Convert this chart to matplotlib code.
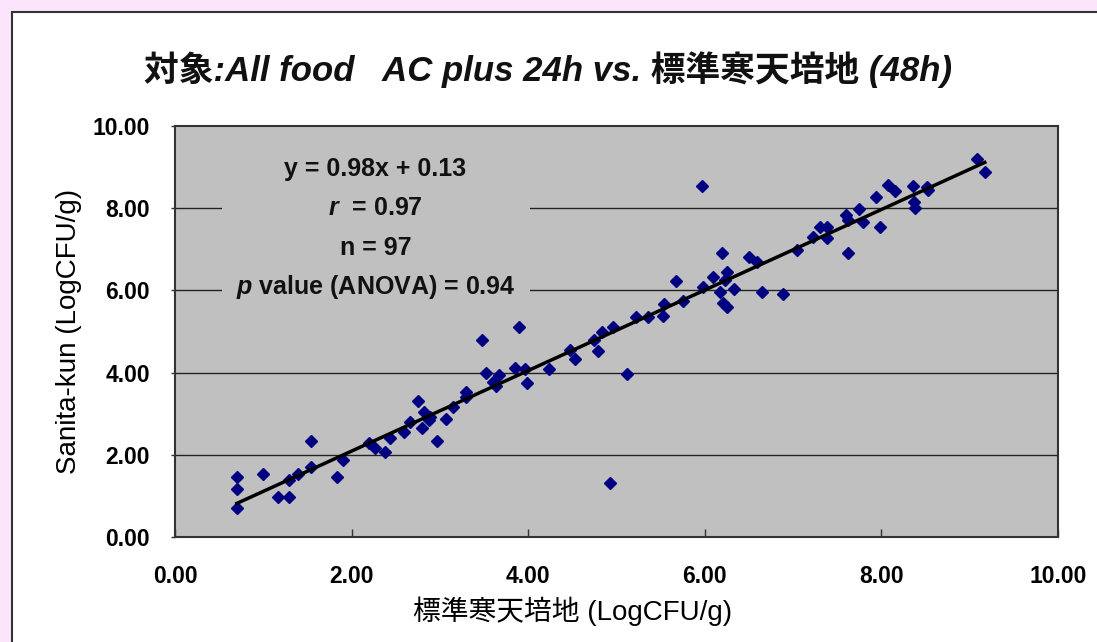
import matplotlib
matplotlib.use("Agg")
import matplotlib.pyplot as plt
from matplotlib.patches import Rectangle

# 標準寒天培地 (x) vs Sanita-kun (y), LogCFU/g
std_agar = [0.70, 0.70, 0.70, 1.00, 1.17, 1.29, 1.29, 1.39, 1.54, 1.54,
            1.83, 1.90, 2.20, 2.27, 2.38, 2.43, 2.59, 2.66, 2.75, 2.82,
            2.80, 2.88, 2.89, 2.97, 3.07, 3.15, 3.30, 3.30, 3.48, 3.90,
            3.52, 3.60, 3.67, 3.64, 3.85, 3.96, 3.99, 4.24, 4.47, 4.53,
            4.75, 4.79, 4.84, 4.96, 5.12, 4.93, 5.22, 5.36, 5.53, 5.54,
            5.75, 5.67, 5.98, 5.97, 6.09, 6.19, 6.17, 6.25, 6.23, 6.21,
            6.25, 6.33, 6.50, 6.59, 6.65, 6.89, 7.04, 7.23, 7.30, 7.38,
            7.38, 7.60, 7.62, 7.62, 7.75, 7.79, 7.94, 7.98, 8.07, 8.15,
            8.36, 8.37, 8.38, 8.52, 8.53, 9.08, 9.17]
sanita = [1.46, 1.17, 0.71, 1.53, 0.97, 0.97, 1.39, 1.53, 2.34, 1.70,
          1.46, 1.87, 2.29, 2.17, 2.07, 2.41, 2.55, 2.80, 3.31, 3.04,
          2.65, 2.85, 2.92, 2.34, 2.87, 3.16, 3.53, 3.41, 4.79, 5.11,
          3.99, 3.77, 3.94, 3.67, 4.11, 4.09, 3.75, 4.09, 4.55, 4.33,
          4.79, 4.53, 4.99, 5.11, 3.97, 1.31, 5.35, 5.35, 5.38, 5.67,
          5.74, 6.23, 6.08, 8.54, 6.33, 6.91, 5.96, 6.45, 6.25, 5.69,
          5.60, 6.03, 6.81, 6.69, 5.96, 5.91, 6.98, 7.30, 7.54, 7.54,
          7.27, 7.83, 7.71, 6.91, 7.98, 7.66, 8.27, 7.54, 8.56, 8.42,
          8.54, 8.15, 8.00, 8.52, 8.44, 9.20, 8.88]

slope = 0.98
intercept = 0.13
stats_lines = ["y = 0.98x + 0.13", r"$\mathit{r}$  = 0.97", "n = 97",
               r"$\mathit{p}$ value (ANOVA) = 0.94"]
ticks = [0, 2, 4, 6, 8, 10]
tick_labels = ["0.00", "2.00", "4.00", "6.00", "8.00", "10.00"]


def main():
    plt.rcParams['font.family'] = ['Liberation Sans', 'Noto Sans CJK JP']
    plt.rcParams['mathtext.fontset'] = 'custom'
    plt.rcParams['mathtext.it'] = 'Liberation Sans:italic:bold'
    plt.rcParams['mathtext.rm'] = 'Liberation Sans:bold'

    fig = plt.figure(figsize=(10.97, 6.42), dpi=100, facecolor='#fce4fc')
    # white panel with dark edge
    fig.patches.append(Rectangle((12 / 1097, -0.1), 1.2, 1.1 - 12 / 642,
                                 transform=fig.transFigure, facecolor='white',
                                 edgecolor='#333333', linewidth=1.5, zorder=-5))

    ax = fig.add_axes([0.1595, 0.1636, 0.805, 0.640])
    ax.set_facecolor('#c0c0c0')
    ax.set_xlim(0, 10)
    ax.set_ylim(0, 10)

    for y in ticks[1:-1]:
        ax.axhline(y, color='#222222', linewidth=1.0, zorder=1)

    # stats box covers the gridlines
    ax.add_patch(Rectangle((0.53, 5.77), 3.49, 3.8, facecolor='#c0c0c0',
                           edgecolor='none', zorder=2))
    for i, line in enumerate(stats_lines):
        ax.text(2.27, 8.96 - i * 0.96, line, ha='center', va='center',
                fontsize=18, fontweight='bold', color='#111111', zorder=3)

    ax.plot(std_agar, sanita, linestyle='none', marker='D', markersize=6.3,
            color='#000080', zorder=4)
    x0, x1 = min(std_agar), max(std_agar)
    ax.plot([x0, x1], [slope * x0 + intercept, slope * x1 + intercept],
            color='black', linewidth=2.5, zorder=5)

    ax.set_xticks(ticks)
    ax.set_xticklabels(tick_labels)
    ax.set_yticks(ticks)
    ax.set_yticklabels(tick_labels)
    ax.tick_params(axis='x', direction='in', length=6, width=1, pad=20,
                   labelsize=16.5, color='#333333')
    ax.tick_params(axis='y', direction='out', length=3, width=1, pad=15,
                   labelsize=16.5, color='#333333')
    for lab in ax.get_xticklabels() + ax.get_yticklabels():
        lab.set_fontweight('bold')
    for sp in ax.spines.values():
        sp.set_color('#333333')
        sp.set_linewidth(1.5)

    ax.set_xlabel("標準寒天培地 (LogCFU/g)", fontsize=20, va='center')
    ax.xaxis.set_label_coords(0.45, -0.18)
    ax.set_ylabel("Sanita-kun (LogCFU/g)", fontsize=20, va='center')
    ax.yaxis.set_label_coords(-0.12, 0.5)

    fig.text(0.5, 1 - 70 / 642, "対象:All food   AC plus 24h vs. 標準寒天培地 (48h)",
             ha='center', va='center', fontsize=25, fontweight='bold',
             style='italic', color='#111111')

    fig.savefig('out.png', dpi=100, facecolor=fig.get_facecolor())


if __name__ == '__main__':
    main()
